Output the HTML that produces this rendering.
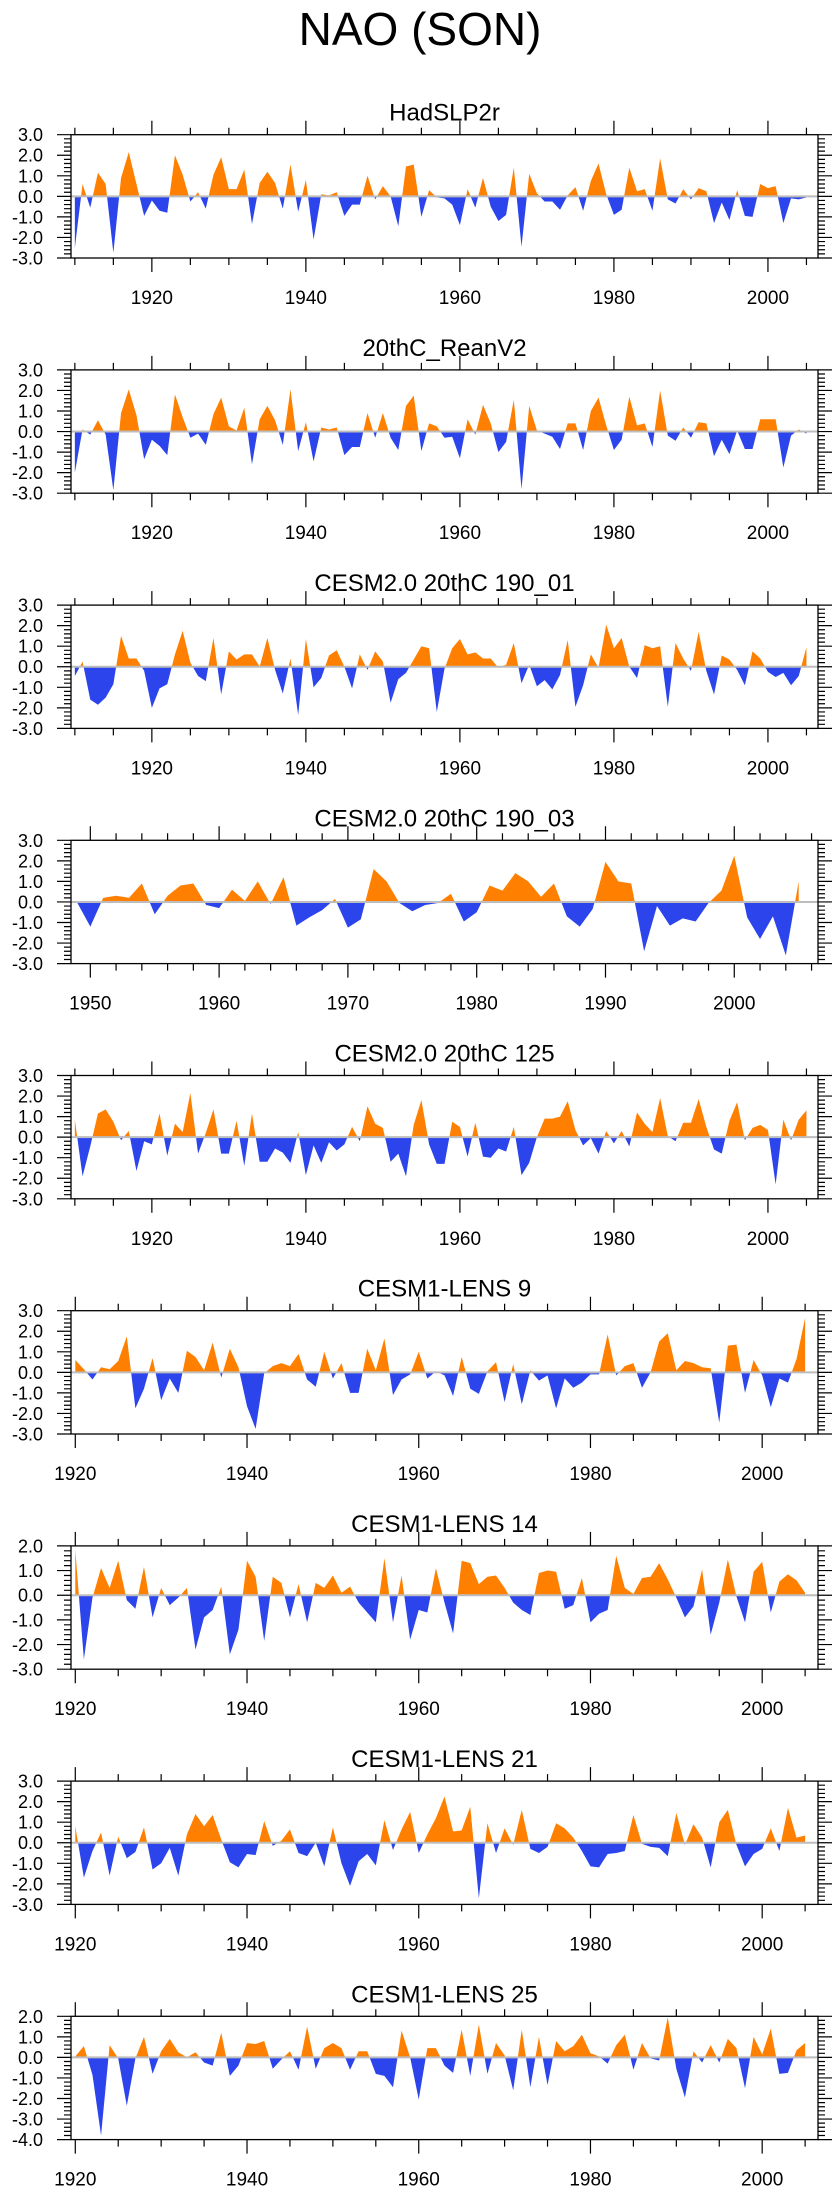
<!DOCTYPE html>
<html><head><meta charset="utf-8"><style>
html,body{margin:0;padding:0;background:#fff;}
svg{display:block;font-family:"Liberation Sans",Arial,sans-serif;}
</style></head><body>
<svg id="chart" width="840" height="2200" viewBox="0 0 840 2200" xmlns="http://www.w3.org/2000/svg">
<text x="420" y="45" font-size="46" text-anchor="middle">NAO (SON)</text>
</svg>
<script>
const titles = ["HadSLP2r","20thC_ReanV2","CESM2.0 20thC 190_01","CESM2.0 20thC 190_03","CESM2.0 20thC 125","CESM1-LENS 9","CESM1-LENS 14","CESM1-LENS 21","CESM1-LENS 25"];
const startYears = [1910,1910,1910,1949,1910,1920,1920,1920,1920];
const yMins = [-3,-3,-3,-3,-3,-3,-3,-3,-4];
const yMaxs = [3,3,3,3,3,3,2,3,2];
const s1 = [-2.5,0.6,-0.55,1.15,0.6,-2.75,0.9,2.15,0.6,-0.95,-0.2,-0.7,-0.8,2.0,1.05,-0.25,0.2,-0.6,1.05,1.9,0.35,0.35,1.3,-1.35,0.65,1.2,0.65,-0.6,1.55,-0.75,0.8,-2.1,0.1,0.05,0.2,-0.95,-0.4,-0.4,1.0,-0.15,0.5,0.0,-1.45,1.45,1.55,-1.0,0.3,-0.05,-0.1,-0.4,-1.4,0.35,-0.55,0.9,-0.5,-1.2,-0.9,1.4,-2.45,1.1,0.15,-0.25,-0.25,-0.65,0.05,0.45,-0.7,0.75,1.6,0.1,-0.9,-0.65,1.4,0.25,0.35,-0.7,1.85,-0.15,-0.35,0.35,-0.15,0.4,0.25,-1.3,-0.3,-1.15,0.3,-0.95,-1.0,0.6,0.4,0.5,-1.3,-0.1,-0.15,-0.05];
const s2 = [-2.0,0.1,-0.15,0.55,-0.15,-2.85,0.9,2.05,0.8,-1.35,-0.4,-0.7,-1.15,1.8,0.7,-0.3,-0.1,-0.65,0.85,1.65,0.25,0.05,1.15,-1.6,0.6,1.25,0.55,-0.65,2.05,-0.95,0.45,-1.45,0.2,0.1,0.2,-1.15,-0.75,-0.75,0.9,-0.3,0.9,-0.3,-0.9,1.25,1.75,-0.95,0.4,0.25,-0.3,-0.25,-1.3,0.6,-0.15,1.3,0.4,-1.0,-0.5,1.55,-2.8,1.25,0.05,-0.1,-0.25,-0.85,0.4,0.4,-0.9,1.0,1.65,0.3,-0.9,-0.4,1.7,0.3,0.4,-0.75,2.0,-0.2,-0.45,0.2,-0.3,0.45,0.4,-1.2,-0.4,-1.1,0.05,-0.85,-0.85,0.6,0.6,0.6,-1.75,-0.2,0.1,-0.1];
const s3 = [-0.45,0.25,-1.6,-1.85,-1.5,-0.85,1.5,0.4,0.4,-0.2,-2.0,-1.05,-0.85,0.6,1.75,0.2,-0.45,-0.7,1.4,-1.35,0.75,0.35,0.6,0.6,0.0,1.4,-0.15,-1.3,0.4,-2.35,1.35,-1.0,-0.55,0.55,0.8,0.0,-1.05,0.6,-0.15,0.75,0.25,-1.75,-0.6,-0.3,0.35,1.0,0.9,-2.2,-0.1,0.9,1.35,0.6,0.7,0.4,0.4,-0.05,0.1,1.15,-0.8,0.1,-0.95,-0.65,-1.1,-0.4,1.3,-1.95,-0.9,0.6,-0.05,2.05,0.9,1.4,0.0,-0.55,1.05,0.9,1.0,-1.95,1.15,0.4,-0.2,1.7,-0.2,-1.35,0.55,0.35,-0.15,-0.9,0.75,0.4,-0.25,-0.5,-0.3,-0.9,-0.45,0.95];
const s4 = [-0.05,-1.2,0.2,0.3,0.2,0.9,-0.6,0.3,0.8,0.9,-0.15,-0.3,0.6,0.05,1.0,-0.1,1.2,-1.15,-0.75,-0.4,0.15,-1.25,-0.85,1.6,1.0,-0.05,-0.45,-0.15,-0.05,0.4,-0.95,-0.5,0.8,0.55,1.4,1.0,0.25,0.9,-0.7,-1.2,-0.35,1.95,1.0,0.9,-2.4,-0.2,-1.15,-0.8,-0.95,-0.05,0.55,2.25,-0.75,-1.8,-0.7,-2.6,1.0];
const s5 = [0.85,-1.9,-0.45,1.15,1.35,0.75,-0.15,0.3,-1.65,-0.2,-0.35,1.15,-0.9,0.65,0.25,2.15,-0.8,0.2,1.35,-0.8,-0.8,0.8,-1.4,1.15,-1.2,-1.2,-0.55,-0.75,-1.25,0.25,-1.85,-0.4,-1.25,-0.25,-0.65,-0.35,0.5,-0.2,1.5,0.65,0.45,-1.2,-0.8,-1.9,0.6,1.8,-0.35,-1.3,-1.3,0.75,0.5,-0.95,0.7,-0.95,-1.0,-0.55,-0.7,0.5,-1.85,-1.25,0.0,0.9,0.9,1.0,1.75,0.35,-0.4,-0.05,-0.8,0.3,-0.3,0.3,-0.45,1.2,0.65,0.25,1.9,0.05,-0.2,0.7,0.7,1.85,0.5,-0.6,-0.8,0.8,1.7,-0.15,0.45,0.6,0.35,-2.3,0.85,-0.15,0.85,1.3];
const s6 = [0.6,0.15,-0.35,0.25,0.15,0.55,1.75,-1.75,-0.8,0.7,-1.35,-0.3,-1.0,1.05,0.75,0.1,1.45,-0.25,1.15,0.25,-1.65,-2.75,-0.05,0.3,0.45,0.3,0.9,-0.35,-0.7,1.0,-0.3,0.45,-1.0,-1.0,1.15,0.1,1.65,-1.1,-0.35,-0.1,1.0,-0.3,0.05,-0.15,-1.15,0.75,-0.8,-1.05,0.05,0.5,-1.45,0.4,-1.55,0.1,-0.4,-0.15,-1.75,-0.3,-0.75,-0.5,-0.1,-0.1,1.85,-0.15,0.3,0.45,-0.75,0.0,1.5,1.9,0.1,0.55,0.45,0.25,0.2,-2.45,1.3,1.35,-1.0,0.6,-0.15,-1.7,-0.3,-0.5,0.65,2.65];
const s7 = [1.85,-2.6,-0.1,1.1,0.3,1.4,-0.2,-0.55,1.15,-0.9,0.3,-0.4,-0.1,0.3,-2.2,-0.9,-0.6,0.35,-2.4,-1.4,1.4,0.75,-1.85,0.75,0.5,-0.9,0.45,-1.1,0.5,0.3,0.8,0.1,0.35,-0.3,-0.7,-1.1,1.5,-1.1,0.8,-1.8,-0.6,-0.7,1.1,-0.3,-1.55,1.4,1.3,0.45,0.75,0.8,0.3,-0.3,-0.6,-0.8,0.9,1.0,0.95,-0.55,-0.4,0.7,-1.1,-0.75,-0.6,1.6,0.3,0.05,0.7,0.75,1.3,0.65,-0.1,-0.9,-0.45,1.05,-1.6,-0.3,1.45,-0.05,-1.1,0.95,1.35,-0.7,0.55,0.85,0.6,0.1];
const s8 = [0.8,-1.7,-0.4,0.5,-1.6,0.3,-0.75,-0.45,0.75,-1.3,-1.0,-0.25,-1.6,0.4,1.4,0.8,1.35,0.15,-0.95,-1.2,-0.55,-0.6,1.05,-0.15,0.1,0.65,-0.5,-0.65,0.0,-1.15,0.75,-1.0,-2.1,-0.9,-0.55,-1.1,1.1,-0.35,0.65,1.5,-0.5,0.4,1.2,2.25,0.55,0.6,1.75,-2.7,0.95,-0.5,0.7,-0.1,1.6,-0.3,-0.5,-0.2,0.95,0.7,0.25,-0.4,-1.15,-1.2,-0.55,-0.5,-0.4,1.35,-0.05,-0.2,-0.25,-0.65,1.45,-0.1,0.9,0.25,-1.2,1.0,1.6,-0.1,-1.15,-0.55,-0.3,0.7,-0.4,1.7,0.25,0.35];
const s9 = [0.05,0.55,-0.85,-3.8,0.6,-0.05,-2.35,-0.05,1.0,-0.8,0.3,0.9,0.25,0.0,0.25,-0.25,-0.4,1.2,-0.9,-0.4,0.7,0.65,0.8,-0.55,-0.1,0.3,-0.6,1.5,-0.55,0.45,0.7,0.45,-0.6,0.3,0.3,-0.8,-0.9,-1.45,1.3,0.0,-2.05,0.45,0.45,-0.4,-0.75,1.35,-0.9,1.6,-0.8,0.7,0.1,-1.6,1.35,-1.45,1.0,-1.35,0.8,0.3,0.55,1.1,0.2,0.05,-0.3,0.6,1.1,-0.6,0.7,-0.05,-0.15,1.95,-0.55,-1.95,0.3,-0.25,0.6,-0.25,0.9,0.45,-1.5,1.0,0.15,1.4,-0.8,-0.75,0.35,0.7];
const series = [s1,s2,s3,s4,s5,s6,s7,s8,s9];
const xLabelSets = [[1920,1940,1960,1980,2000],[1920,1940,1960,1980,2000],[1920,1940,1960,1980,2000],[1950,1960,1970,1980,1990,2000],[1920,1940,1960,1980,2000],[1920,1940,1960,1980,2000],[1920,1940,1960,1980,2000],[1920,1940,1960,1980,2000],[1920,1940,1960,1980,2000]];

const NS = "http://www.w3.org/2000/svg";
const svg = document.getElementById('chart');
const L = 71, R = 818, TOP0 = 134.7, STEP = 235.2, H = 123.3;
function mk(tag, attrs, parent){ const e=document.createElementNS(NS,tag); for(const k in attrs) e.setAttribute(k,attrs[k]); (parent||svg).appendChild(e); return e; }

series.forEach((data, p) => {
  const top = TOP0 + STEP*p, bot = top + H;
  const y0 = startYears[p];
  const y1 = y0 + data.length - 1;
  const xmin = y0 - 0.5, xmax = y1 + 1.5;
  const ymin = yMins[p], ymax = yMaxs[p];
  const xs = v => L + (v - xmin) / (xmax - xmin) * (R - L);
  const ys = v => bot - (v - ymin) / (ymax - ymin) * H;
  const g = mk('g', {});
  
  
  const t = mk('text', {x: (L+R)/2, y: top - 14, 'font-size': 24, 'text-anchor': 'middle'}, g);
  t.textContent = titles[p];
  
  
  const z = ys(0);
  let pos = 'M' + xs(y0) + ' ' + z, neg = 'M' + xs(y0) + ' ' + z;
  for (let i = 0; i < data.length; i++) {
    const v = data[i], x = xs(y0 + i);
    if (i > 0) {
      const u = data[i-1];
      if ((u > 0 && v < 0) || (u < 0 && v > 0)) {
        const f = u / (u - v);
        const xc = xs(y0 + i - 1 + f);
        pos += ' L' + xc + ' ' + z; neg += ' L' + xc + ' ' + z;
      }
    }
    pos += ' L' + x + ' ' + ys(Math.max(v, 0));
    neg += ' L' + x + ' ' + ys(Math.min(v, 0));
  }
  pos += ' L' + xs(y1) + ' ' + z + ' Z';
  neg += ' L' + xs(y1) + ' ' + z + ' Z';
  const pp = mk('path', {d: pos, fill: '#ff8000'}, g);
  
  
  const np = mk('path', {d: neg, fill: '#2b44ec'}, g);
  
  
  const zl = mk('line', {x1: L, x2: R, y1: z, y2: z, stroke: '#bdbdbd', 'stroke-width': 2}, g);
  
  
  const box = mk('rect', {x: L, y: top, width: R-L, height: H, fill: 'none', stroke: '#000', 'stroke-width': 1.3}, g);
  
  
  let tk = '';
  for (let v = ymin; v <= ymax + 1e-6; v += 0.2) {
    const vv = Math.round(v*10)/10;
    const major = Math.abs(vv - Math.round(vv)) < 1e-6;
    const len = major ? 14 : 7;
    const yy = ys(vv);
    tk += 'M' + (L-len) + ' ' + yy + ' H' + L + ' M' + R + ' ' + yy + ' H' + (R+len) + ' ';
    if (major) {
      const lb = mk('text', {x: 43, y: yy, dy: '0.36em', 'font-size': 18, 'text-anchor': 'end'}, g);
      lb.textContent = vv.toFixed(1);
      
      
    }
  }
  const minorStep = (p === 3) ? 2 : 5;
  const majorStep = (p === 3) ? 10 : 20;
  for (let yr = Math.ceil(xmin / minorStep) * minorStep; yr <= xmax; yr += minorStep) {
    const major = yr % majorStep === 0;
    const len = major ? 14 : 7;
    const xx = xs(yr);
    tk += 'M' + xx + ' ' + (top-len) + ' V' + top + ' M' + xx + ' ' + bot + ' V' + (bot+len) + ' ';
  }
  const ticks = mk('path', {d: tk, stroke: '#000', 'stroke-width': 1.2, fill: 'none'}, g);
  
  
  xLabelSets[p].forEach(yr => {
    const lb = mk('text', {x: xs(yr), y: bot + 46, 'font-size': 19, 'text-anchor': 'middle'}, g);
    lb.textContent = yr;
    
    
  });
});
</script>
</body></html>
